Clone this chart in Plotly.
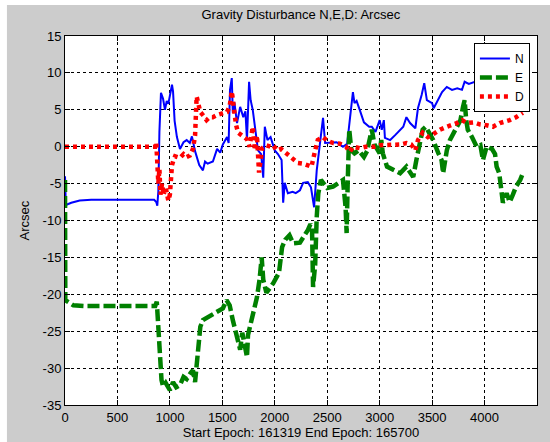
import plotly.graph_objects as go

# ---------------- data ----------------
n_x = [0, 8, 60, 140, 250, 850, 870, 880, 890, 900, 915, 935, 953, 970, 985, 1000, 1020, 1030, 1045,
       1067, 1096, 1130, 1160, 1190, 1210, 1240, 1280, 1315, 1335, 1360, 1410, 1450, 1480, 1505, 1545,
       1560, 1573, 1590, 1600, 1615, 1640, 1670, 1700, 1720, 1735, 1755, 1770, 1790, 1810, 1840, 1870,
       1890, 1905, 1930, 1960, 2000, 2030, 2065, 2080, 2095, 2125, 2170, 2200, 2240, 2270, 2315, 2345,
       2375, 2400, 2430, 2460, 2480, 2525, 2590, 2650, 2690, 2715, 2745, 2760, 2780, 2810, 2850, 2900,
       2925, 2960, 3000, 3020, 3040, 3050, 3100, 3150, 3225, 3255, 3290, 3340, 3365, 3400, 3425, 3450,
       3500, 3515, 3545, 3595, 3640, 3690, 3740, 3785, 3810, 3850, 3950, 4050, 4150, 4250, 4320, 4340,
       4360]
n_y = [-4.0, -7.9, -7.6, -7.3, -7.2, -7.2, -7.5, -8.0, -6.0, 2.0, 7.3, 6.5, 5.0, 6.2, 5.8, 7.2, 8.4, 7.5, 3.5,
       1.3, -0.3, 0.6, 0.9, 0.5, 1.4, -0.6, -2.5, -3.2, -2.0, -2.3, -2.0, -0.3, -0.8, 0.3, 1.3,
       0.5, 7.7, 9.3, 4.6, 6.0, 3.2, 5.4, 4.0, 4.8, 0.9, 8.8, 6.3, 5.0, 2.7, -0.5, -1.0,
       -4.2, 2.7, 0.9, 1.3, -0.5, -1.0, -1.8, -7.6, -4.9, -6.3, -6.1, -6.3, -5.9, -4.9, -4.8, -5.5,
       -8.2, -3.2, 0.0, 3.9, 0.5, 0.5, 0.6, 0.0, 0.4, 3.6, 7.4, 5.9, 6.2, 5.0, 3.3, 2.7,
       2.7, 2.0, 3.6, 2.3, 3.6, 1.2, 0.9, 1.6, 2.7, 4.0, 3.2, 2.5, 5.2, 7.0, 8.6, 6.3,
       5.9, 5.2, 6.1, 7.4, 8.1, 7.7, 7.9, 7.7, 8.8, 8.5, 9.0, 8.7, 9.2, 8.8, 8.0, 6.8,
       5.8]

e_x = [0, 3, 80, 200, 500, 860, 875, 890, 905, 920, 935, 960, 1000, 1030, 1060, 1096, 1130, 1160, 1200,
       1220, 1240, 1255, 1270, 1280, 1290, 1315, 1380, 1450, 1505, 1540, 1570, 1600, 1640, 1670, 1690,
       1710, 1735, 1745, 1790, 1830, 1855, 1875, 1890, 1920, 1985, 2040, 2070, 2100, 2140, 2175, 2240,
       2280, 2315, 2340, 2355, 2365, 2385, 2400, 2415, 2440, 2500, 2555, 2600, 2650, 2675, 2685, 2695,
       2700, 2710, 2730, 2760, 2800, 2850, 2880, 2905, 2925, 2950, 3000, 3015, 3030, 3070, 3130, 3195,
       3255, 3290, 3320, 3350, 3380, 3410, 3440, 3470, 3510, 3560, 3590, 3605, 3640, 3670, 3720, 3770,
       3795, 3810, 3825, 3840, 3880, 3925, 3960, 3985, 4020, 4070, 4100, 4115, 4140, 4150, 4160, 4175,
       4210, 4240, 4270, 4300, 4340, 4365]
e_y = [-4.5, -20.8, -21.5, -21.6, -21.6, -21.6, -21.0, -25.0, -30.2, -31.6, -32.5, -32.0, -33.0, -31.9, -32.6, -32.3, -31.2, -31.5, -30.6,
       -30.3, -31.9, -29.2, -28.0, -25.2, -24.4, -23.5, -23.0, -22.4, -21.9, -20.8, -21.5, -23.5, -25.8, -27.5, -25.2,
       -26.5, -28.5, -25.5, -22.5, -20.4, -18.0, -15.0, -18.0, -19.8, -18.5, -17.1, -13.6, -12.6, -12.0, -13.1, -13.0,
       -12.2, -11.3, -10.5, -10.9, -19.0, -16.0, -9.5, -6.3, -4.5, -5.6, -5.4, -4.9, -4.5, -8.2, -11.7, -5.0,
       -1.8, 2.3, -0.5, -0.9, -0.5, -1.4, -0.6, 0.9, 2.3, 0.3, -0.9, 0.9, -0.9, -2.7, -3.2, -3.6,
       -2.7, -3.6, -4.1, -1.8, 0.0, 2.3, 2.7, 1.9, 0.9, -0.9, -1.8, -3.6, -0.5, 0.9, 2.3, 3.6,
       5.4, 6.3, 3.6, 2.3, 1.3, 0.0, 0.2, -1.8, 0.0, -0.3, -1.0, -2.7, -3.6, -5.0, -6.8, -7.6,
       -6.3, -7.5, -6.5, -5.4, -4.5, -3.6]

d_x = [0, 860, 870, 880, 890, 900, 910, 925, 940, 960, 985, 1000, 1010, 1020, 1035, 1050, 1096, 1130, 1160,
       1190, 1220, 1240, 1255, 1270, 1290, 1320, 1350, 1380, 1410, 1450, 1480, 1520, 1545, 1570, 1590,
       1600, 1615, 1630, 1650, 1690, 1735, 1760, 1790, 1810, 1830, 1850, 1865, 1880, 1920, 1960, 1985,
       2020, 2060, 2115, 2150, 2175, 2220, 2270, 2305, 2350, 2385, 2410, 2460, 2500, 2560, 2620, 2680,
       2715, 2750, 2810, 2870, 2950, 3000, 3100, 3200, 3255, 3300, 3340, 3365, 3410, 3460, 3500, 3575,
       3640, 3700, 3735, 3785, 3830, 3900, 3960, 4020, 4080, 4145, 4200, 4240, 4300, 4340, 4365]
d_y = [0.0, 0.0, 0.6, -2.0, -5.0, -3.0, -6.5, -5.0, -6.5, -5.5, -7.3, -6.5, -4.0, -2.5, -1.8, -1.3, -1.5, -1.0, -1.4,
       -1.2, -0.3, 1.5, 6.8, 5.8, 4.7, 4.2, 3.6, 4.0, 4.0, 4.3, 4.5, 4.6, 4.7, 5.5, 7.5,
       6.0, 4.0, 3.0, 1.9, 1.5, 1.0, 0.0, 2.7, -0.5, 1.5, -3.5, -1.0, -0.2, 0.2, 0.0, 0.2,
       -0.5, -0.3, -0.9, -1.4, -1.6, -2.2, -2.3, -2.5, -2.7, -0.5, 0.9, 1.3, 0.8, 0.5, 0.4, 0.0,
       -0.7, 0.0, -0.2, 0.0, 0.0, 0.2, 0.2, 0.3, 0.5, 0.3, -0.5, 0.9, 1.9, 1.3, 1.6, 2.3,
       2.7, 3.0, 3.2, 3.6, 3.2, 3.3, 3.0, 2.9, 2.7, 3.2, 3.4, 3.6, 4.0, 4.3, 4.6]

x_ticks = [0, 500, 1000, 1500, 2000, 2500, 3000, 3500, 4000, 4500]
y_ticks = [-35, -30, -25, -20, -15, -10, -5, 0, 5, 10, 15]

# ---------------- figure ----------------
FONT = "Liberation Sans, Arial, sans-serif"
fig = go.Figure()
fig.add_trace(go.Scatter(x=n_x, y=n_y, mode="lines", name="N",
                         line=dict(color="#0000ff", width=2)))
fig.add_trace(go.Scatter(x=e_x, y=e_y, mode="lines", name="E",
                         line=dict(color="#008000", width=4.5, dash="12px,4px")))
fig.add_trace(go.Scatter(x=d_x, y=d_y, mode="lines", name="D",
                         line=dict(color="#ff0000", width=4.5, dash="4px,4px")))

# thin white strips at left and top edge of the screenshot
fig.add_shape(type="rect", xref="paper", yref="paper",
              x0=-0.14, x1=-0.123, y0=-0.12, y1=1.12,
              fillcolor="white", line=dict(width=0), layer="below")
fig.add_shape(type="rect", xref="paper", yref="paper",
              x0=-0.14, x1=1.05, y0=1.084, y1=1.12,
              fillcolor="white", line=dict(width=0), layer="below")

axis_common = dict(showline=True, linecolor="black", linewidth=1, mirror="ticks",
                   ticks="inside", ticklen=5, tickcolor="black",
                   showgrid=True, gridcolor="black", gridwidth=1, griddash="3px,3px",
                   zeroline=False, tickfont=dict(family=FONT, size=13, color="black"))

fig.update_xaxes(range=[0, 4500], tickvals=x_ticks, ticktext=[str(v) for v in x_ticks],
                 title=dict(text="Start Epoch: 161319 End Epoch: 165700",
                            font=dict(family=FONT, size=13, color="black"), standoff=2),
                 **axis_common)
fig.update_yaxes(range=[-35, 15], tickvals=y_ticks, ticktext=[str(v) for v in y_ticks],
                 title=dict(text="Arcsec", font=dict(family=FONT, size=13, color="black"), standoff=10),
                 **axis_common)

fig.update_layout(
    width=550, height=442,
    margin=dict(l=65, r=13, t=36, b=37, autoexpand=False),
    paper_bgcolor="#cccccc", plot_bgcolor="white",
    title=dict(text="Gravity Disturbance N,E,D: Arcsec", x=0.547, xanchor="center",
               y=1 - 14 / 442, yanchor="middle", yref="container",
               font=dict(family=FONT, size=13, color="black")),
    legend=dict(x=0.985, xanchor="right", y=0.981, yanchor="top",
                bgcolor="white", bordercolor="black", borderwidth=1,
                font=dict(family=FONT, size=12, color="black"),
                itemwidth=30, tracegroupgap=0),
    showlegend=True,
)

fig.write_html("out.html")
